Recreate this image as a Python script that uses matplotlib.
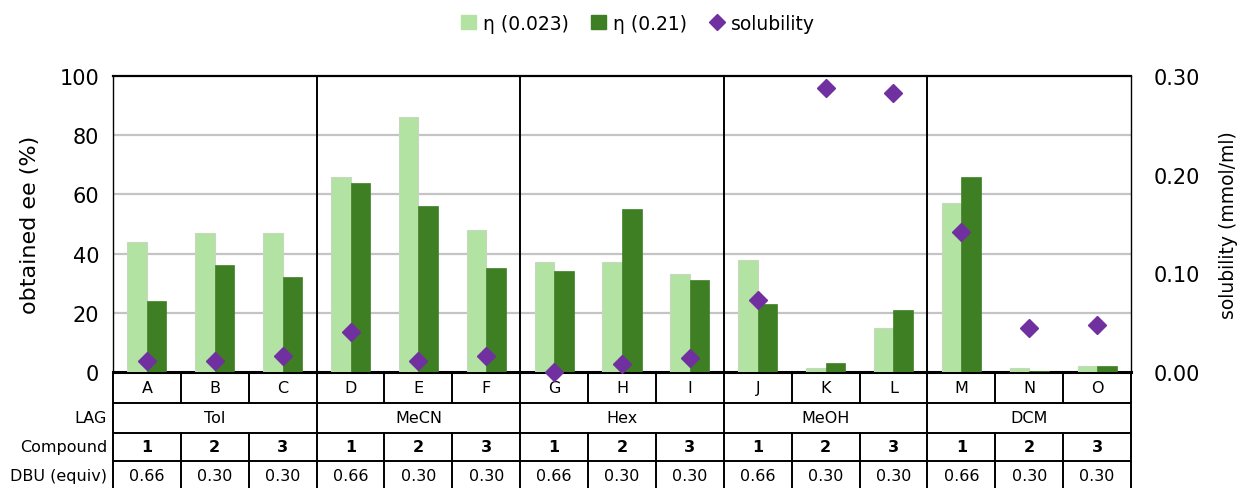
import matplotlib
matplotlib.use("Agg")
import matplotlib.pyplot as plt
from matplotlib.lines import Line2D
from matplotlib.patches import Patch
from matplotlib.ticker import FormatStrFormatter

plt.rcParams['font.family'] = ['DejaVu Sans']

# ---- data ----
categories = list("ABCDEFGHIJKLMNO")
lag_solvents = ["Tol", "MeCN", "Hex", "MeOH", "DCM"]
compounds = ["1", "2", "3"] * 5
dbu_equiv = ["0.66", "0.30", "0.30"] * 5
ee_eta_low = [44, 47, 47, 66, 86, 48, 37, 37, 33, 38, 1.5, 15, 57, 1.5, 2]
ee_eta_high = [24, 36, 32, 64, 56, 35, 34, 55, 31, 23, 3, 21, 66, 0.3, 2]
solubility = [0.011, 0.011, 0.016, 0.041, 0.011, 0.016, 0.000, 0.008, 0.014,
              0.073, 0.288, 0.283, 0.142, 0.045, 0.048]

light_green = "#b3e3a3"
dark_green = "#3e7f24"
purple = "#7030a0"

W, H = 1240, 489
fig = plt.figure(figsize=(W / 100, H / 100), dpi=100)
left, right, top, bottom = 113, 1131, 77, 373
ax = fig.add_axes([left / W, (H - bottom) / H, (right - left) / W, (bottom - top) / H])

n = len(categories)
x = list(range(n))
bw = 0.288
ax.bar([i - bw / 2 for i in x], ee_eta_low, width=bw, color=light_green,
       edgecolor="#c8d8c0", linewidth=0.8, zorder=3, label="η (0.023)")
ax.bar([i + bw / 2 for i in x], ee_eta_high, width=bw, color=dark_green,
       edgecolor=dark_green, linewidth=0.5, zorder=3, label="η (0.21)")

ax.set_xlim(-0.5, n - 0.5)
ax.set_ylim(0, 100)
ax.set_yticks([0, 20, 40, 60, 80, 100])
ax.set_xticks([])
ax.tick_params(axis='y', length=0, pad=10, labelsize=15)
ax.set_ylabel("obtained ee (%)", fontsize=16, labelpad=14)
for v in [20, 40, 60, 80]:
    ax.axhline(v, color="#c4c4c4", lw=1.6, zorder=1)
for s in ax.spines.values():
    s.set_linewidth(1.0)
    s.set_color("black")
ax.spines['bottom'].set_linewidth(2.2)
ax.spines['top'].set_linewidth(1.6)

# secondary axis for solubility
ax2 = ax.twinx()
ax2.set_ylim(0, 0.30)
ax2.set_yticks([0, 0.10, 0.20, 0.30])
ax2.yaxis.set_major_formatter(FormatStrFormatter("%.2f"))
ax2.tick_params(axis='y', length=0, pad=16, labelsize=15)
ax2.set_ylabel("solubility (mmol/ml)", fontsize=13.5, labelpad=14)
ax2.plot(x, solubility, linestyle="none", marker="D", markersize=9,
         color=purple, zorder=5, clip_on=False)
for s in ax2.spines.values():
    s.set_visible(False)

# table under the plot
tr = ax.get_xaxis_transform()
row_lines = [0.0, -0.1047, -0.206, -0.3007, -0.42]
row_centers = [-0.054, -0.155, -0.253, -0.348]
for y in row_lines[1:4]:
    ax.plot([-0.5, n - 0.5], [y, y], transform=tr, color="black", lw=1.4, clip_on=False)
for xb in [-0.5, n - 0.5]:
    ax.plot([xb, xb], [0, row_lines[-1]], transform=tr, color="black", lw=1.4, clip_on=False)
for k in range(1, n):
    xb = k - 0.5
    if k % 3 == 0:
        ax.plot([xb, xb], [1, row_lines[-1]], transform=tr, color="black", lw=1.4,
                clip_on=False, zorder=2)
    else:
        ax.plot([xb, xb], [0, row_lines[1]], transform=tr, color="black", lw=1.4, clip_on=False)
        ax.plot([xb, xb], [row_lines[2], row_lines[-1]], transform=tr, color="black", lw=1.4,
                clip_on=False)

cell_fs = 11.5
for i in x:
    ax.text(i, row_centers[0], categories[i], transform=tr, ha="center", va="center", fontsize=cell_fs)
    ax.text(i, row_centers[2], compounds[i], transform=tr, ha="center", va="center",
            fontsize=cell_fs, fontweight="bold")
    ax.text(i, row_centers[3], dbu_equiv[i], transform=tr, ha="center", va="center", fontsize=cell_fs)
for g, name in enumerate(lag_solvents):
    ax.text(3 * g + 1, row_centers[1], name, transform=tr, ha="center", va="center", fontsize=cell_fs)

lab_x = 107 / W
for r, name in [(1, "LAG"), (2, "Compound"), (3, "DBU (equiv)")]:
    yfig = ((H - bottom) + row_centers[r] * (bottom - top)) / H
    fig.text(lab_x, yfig, name, ha="right", va="center", fontsize=cell_fs)

# legend
handles = [Patch(facecolor=light_green, edgecolor=light_green, label="η (0.023)"),
           Patch(facecolor=dark_green, edgecolor=dark_green, label="η (0.21)"),
           Line2D([], [], linestyle="none", marker="D", markersize=8, color=purple,
                  label="solubility")]
fig.legend(handles=handles, loc="center", bbox_to_anchor=(638 / W, 1 - 24 / H), ncol=3,
           frameon=False, fontsize=13.5, handlelength=0.8, handleheight=0.8,
           handletextpad=0.35, columnspacing=1.2)

fig.savefig("out.png", dpi=100)
